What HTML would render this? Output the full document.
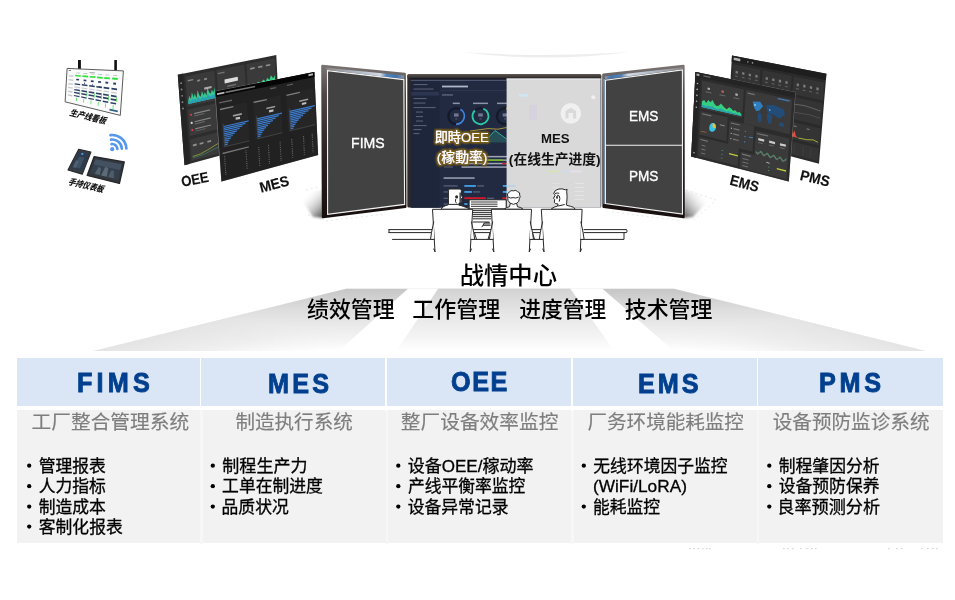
<!DOCTYPE html>
<html lang="zh-CN">
<head>
<meta charset="utf-8">
<title>战情中心</title>
<style>
html,body{margin:0;padding:0;background:#fff;}
body{width:955px;height:600px;position:relative;overflow:hidden;font-family:"Liberation Sans",sans-serif;}
.abs{position:absolute;}
#art{position:absolute;left:0;top:0;width:955px;height:600px;}
#art text{font-family:"Liberation Sans","Noto Sans CJK SC",sans-serif;}
.hd{position:absolute;top:358px;height:48px;background:#dae5f6;}
.bd{position:absolute;top:410px;height:133px;background:#f2f2f2;}
.ttl{position:absolute;color:#00408f;font-weight:bold;font-size:28.5px;line-height:30px;height:30px;white-space:nowrap;transform-origin:0 0;}
.lab{position:absolute;white-space:nowrap;line-height:1;transform-origin:0 0;}
</style>
</head>
<body>
<div class="hd" style="left:17.1px;width:925.5px"></div>
<div class="bd" style="left:17.1px;width:925.5px"></div>
<div class="abs" style="left:199.9px;top:357px;width:1.5px;height:53.5px;background:#fff"></div>
<div class="abs" style="left:200.3px;top:410.5px;width:2.4px;height:133px;background:#f7f7f7"></div>
<div class="abs" style="left:385.4px;top:357px;width:1.5px;height:53.5px;background:#fff"></div>
<div class="abs" style="left:385.8px;top:410.5px;width:2.4px;height:133px;background:#f7f7f7"></div>
<div class="abs" style="left:571.0px;top:357px;width:1.5px;height:53.5px;background:#fff"></div>
<div class="abs" style="left:571.3px;top:410.5px;width:2.4px;height:133px;background:#f7f7f7"></div>
<div class="abs" style="left:756.5px;top:357px;width:1.5px;height:53.5px;background:#fff"></div>
<div class="abs" style="left:756.8px;top:410.5px;width:2.4px;height:133px;background:#f7f7f7"></div>
<div class="ttl" style="left:77.46px;top:367.94px;font-size:28.0px;letter-spacing:4.66px;transform:scaleX(0.900);-webkit-text-stroke:0.9px #00408f">FIMS</div>
<div class="ttl" style="left:268.26px;top:369.14px;font-size:28.0px;letter-spacing:3.53px;transform:scaleX(0.900);-webkit-text-stroke:0.9px #00408f">MES</div>
<div class="ttl" style="left:451.32px;top:366.64px;font-size:28.0px;letter-spacing:1.72px;transform:scaleX(0.900);-webkit-text-stroke:0.9px #00408f">OEE</div>
<div class="ttl" style="left:638.26px;top:369.14px;font-size:28.0px;letter-spacing:3.37px;transform:scaleX(0.900);-webkit-text-stroke:0.9px #00408f">EMS</div>
<div class="ttl" style="left:819.06px;top:367.94px;font-size:28.0px;letter-spacing:4.15px;transform:scaleX(0.900);-webkit-text-stroke:0.9px #00408f">PMS</div>
<svg id="art" width="955" height="600" viewBox="0 0 955 600">
<defs>
<linearGradient id="fg" x1="0" y1="0" x2="0" y2="1">
<stop offset="0" stop-color="#c6c6c6"/><stop offset="0.35" stop-color="#dedede"/><stop offset="0.75" stop-color="#f1f1f1"/><stop offset="1" stop-color="#ffffff"/></linearGradient>
<linearGradient id="fg2" x1="0" y1="0" x2="0" y2="1">
<stop offset="0" stop-color="#d2d2d2"/><stop offset="0.4" stop-color="#e6e6e6"/><stop offset="0.8" stop-color="#f5f5f5"/><stop offset="1" stop-color="#ffffff"/></linearGradient>
<linearGradient id="fgl" gradientUnits="userSpaceOnUse" x1="220" y1="319.8" x2="233.2" y2="373.2"><stop offset="0" stop-color="#e4e4e4" stop-opacity="1"/><stop offset="0.5" stop-color="#ececec" stop-opacity="0.8"/><stop offset="1" stop-color="#f6f6f6" stop-opacity="0"/></linearGradient>
<linearGradient id="fgr" gradientUnits="userSpaceOnUse" x1="800" y1="319.9" x2="786.8" y2="373.3"><stop offset="0" stop-color="#e4e4e4" stop-opacity="1"/><stop offset="0.5" stop-color="#ececec" stop-opacity="0.8"/><stop offset="1" stop-color="#f6f6f6" stop-opacity="0"/></linearGradient>
<linearGradient id="bzl" gradientUnits="userSpaceOnUse" x1="0" y1="64" x2="0" y2="218"><stop offset="0" stop-color="#7b7573"/><stop offset="0.2" stop-color="#4d4745"/><stop offset="0.55" stop-color="#2c2524"/><stop offset="1" stop-color="#170f0e"/></linearGradient>
<linearGradient id="shl" gradientUnits="userSpaceOnUse" x1="323" y1="216" x2="303" y2="196"><stop offset="0" stop-color="#3c3c3c" stop-opacity="0.85"/><stop offset="0.35" stop-color="#777" stop-opacity="0.5"/><stop offset="1" stop-color="#fff" stop-opacity="0"/></linearGradient>
<linearGradient id="shr" gradientUnits="userSpaceOnUse" x1="684" y1="214" x2="706" y2="196"><stop offset="0" stop-color="#4a4a4a" stop-opacity="0.8"/><stop offset="0.4" stop-color="#888" stop-opacity="0.45"/><stop offset="1" stop-color="#fff" stop-opacity="0"/></linearGradient>
<filter id="bl1" x="-20%" y="-20%" width="140%" height="140%"><feGaussianBlur stdDeviation="1.2"/></filter>
<linearGradient id="bz" x1="0" y1="0" x2="1" y2="0"><stop offset="0" stop-color="#8d8a89"/><stop offset="0.45" stop-color="#b9c4d4"/><stop offset="0.7" stop-color="#dfe8f3"/><stop offset="0.78" stop-color="#4f86c6"/><stop offset="0.9" stop-color="#3d76ba"/><stop offset="1" stop-color="#8f9bab"/></linearGradient>
<linearGradient id="bz2" x1="0" y1="0" x2="1" y2="0"><stop offset="0" stop-color="#8f9bab"/><stop offset="0.08" stop-color="#3d76ba"/><stop offset="0.22" stop-color="#4f86c6"/><stop offset="0.3" stop-color="#dfe8f3"/><stop offset="0.6" stop-color="#b9c4d4"/><stop offset="1" stop-color="#8d8a89"/></linearGradient>
<linearGradient id="ctop" x1="0" y1="0" x2="0" y2="1"><stop offset="0" stop-color="#5b5451"/><stop offset="1" stop-color="#2a2625"/></linearGradient>
<filter id="glow" x="-20%" y="-40%" width="140%" height="180%"><feMorphology in="SourceAlpha" operator="dilate" radius="1.4" result="d"/><feGaussianBlur in="d" stdDeviation="1.1" result="b"/><feFlood flood-color="#86661a" flood-opacity="0.95"/><feComposite in2="b" operator="in" result="g"/><feMerge><feMergeNode in="g"/><feMergeNode in="g"/><feMergeNode in="SourceGraphic"/></feMerge></filter>
</defs>
<polygon points="346.0,288.8 674.0,288.8 926.0,351.0 93.0,351.0" fill="url(#fg)"/>
<polygon points="346.0,288.8 407.9,288.8 338.7,351.0 93.0,351.0" fill="url(#fgl)" style="mix-blend-mode:darken"/>
<polygon points="602.6,288.8 674.0,288.8 926.0,351.0 673.8,351.0" fill="url(#fgr)" style="mix-blend-mode:darken"/>
<polygon points="438.2,288.8 570.2,288.8 614.1,351.0 396.3,351.0" fill="url(#fg2)"/>
<polygon points="407.9,288.8 438.2,288.8 396.3,351.0 338.7,351.0" fill="#fff"/>
<polygon points="570.2,288.8 602.6,288.8 673.8,351.0 614.1,351.0" fill="#fff"/>
<polygon points="298.0,194.0 323.0,190.0 323.0,218.0 313.0,217.0" fill="url(#shl)" filter="url(#bl1)"/>
<polygon points="684.0,190.0 711.0,197.5 693.0,217.0 684.0,218.0" fill="url(#shr)" filter="url(#bl1)"/>
<polygon points="322.4,65.9 404.7,73.9 405.3,206.9 323.0,217.0" fill="url(#bzl)" stroke="url(#bzl)" stroke-width="2.4" stroke-linejoin="round"/>
<polygon points="327.5,70.6 403.8,79.6 404.6,204.4 327.6,214.4" fill="#424242" stroke="#f4f4f4" stroke-width="1.1"/>
<polygon points="324.6,67.6 404.2,75.6 403.9,78.7 327.3,69.9" fill="url(#bz)" opacity="0.9"/>
<polygon points="603.4,74.8 683.4,65.9 683.6,217.0 603.6,206.9" fill="url(#bzl)" stroke="url(#bzl)" stroke-width="2.4" stroke-linejoin="round"/>
<polygon points="605.4,80.2 682.4,69.9 682.5,214.0 605.4,203.6" fill="#424242" stroke="#f4f4f4" stroke-width="1.1"/>
<line x1="605.4" y1="145.2" x2="682.4" y2="145.2" stroke="#f4f4f4" stroke-width="1.1"/>
<line x1="604.1" y1="79" x2="604.1" y2="204" stroke="#86a7cc" stroke-width="1.3"/>
<polygon points="604.4,76.2 683.0,67.2 682.5,69.2 605.3,79.3" fill="url(#bz2)" opacity="0.9"/>
<rect x="407.3" y="74.2" width="194" height="133.4" rx="1.5" fill="#2f2a29"/>
<rect x="407.3" y="74.2" width="194" height="4.4" rx="1.5" fill="url(#ctop)"/>
<rect x="410.8" y="78.2" width="189.8" height="129.4" fill="#222a41"/>
<rect x="410.8" y="78.2" width="28.8" height="129.4" fill="#1e263b"/>
<rect x="410.8" y="78.2" width="96" height="1.6" fill="#1a1a22"/><rect x="410.8" y="79.8" width="96" height="1.0" fill="#59617a"/>
<rect x="413.5" y="84.0" width="14" height="1.1" fill="#c9d3ea" opacity="0.33"/>
<rect x="413.5" y="88.5" width="20" height="1.1" fill="#c9d3ea" opacity="0.33"/>
<rect x="413.5" y="93.5" width="12" height="1.1" fill="#c9d3ea" opacity="0.55"/>
<rect x="413.5" y="98.0" width="13" height="1.1" fill="#c9d3ea" opacity="0.33"/>
<rect x="413.5" y="102.5" width="12" height="1.1" fill="#c9d3ea" opacity="0.33"/>
<rect x="413.5" y="107.0" width="22" height="1.1" fill="#c9d3ea" opacity="0.33"/>
<rect x="416.0" y="111.5" width="7" height="1.1" fill="#c9d3ea" opacity="0.33"/>
<rect x="416.0" y="116.0" width="7" height="1.1" fill="#c9d3ea" opacity="0.33"/>
<rect x="416.0" y="120.5" width="7" height="1.1" fill="#c9d3ea" opacity="0.33"/>
<rect x="413.5" y="125.0" width="13" height="1.1" fill="#c9d3ea" opacity="0.33"/>
<rect x="413.5" y="129.0" width="8" height="1.1" fill="#c9d3ea" opacity="0.33"/>
<rect x="413.5" y="133.0" width="6" height="1.1" fill="#c9d3ea" opacity="0.33"/>
<rect x="411.5" y="91.8" width="27.5" height="3.8" fill="#2c3650"/>
<rect x="442" y="85.6" width="26" height="1.8" fill="#dfe6f7" opacity="0.75"/>
<rect x="442" y="94.4" width="11" height="1.1" fill="#c9d3ea" opacity="0.45"/>
<rect x="440.5" y="90" width="66" height="0.5" fill="#36405c"/>
<rect x="452.8" y="102.6" width="7" height="1.5" fill="#d5dcf0" opacity="0.6"/>
<rect x="473.0" y="102.6" width="15" height="1.5" fill="#d5dcf0" opacity="0.6"/>
<rect x="497.0" y="102.6" width="16" height="1.5" fill="#d5dcf0" opacity="0.6"/>
<circle cx="456.3" cy="116.2" r="8.0" fill="none" stroke="#141a2b" stroke-width="2.2"/><path d="M460.30 109.27 A8.00 8.00 0 0 1 456.13 124.20" fill="none" stroke="#3f83d9" stroke-width="1.9"/>
<circle cx="480.5" cy="116.2" r="8.0" fill="none" stroke="#141a2b" stroke-width="2.2"/><path d="M483.24 108.68 A8.00 8.00 0 1 1 474.86 110.52" fill="none" stroke="#2fc6a7" stroke-width="1.9"/>
<circle cx="505.0" cy="116.2" r="8.0" fill="none" stroke="#141a2b" stroke-width="2.2"/><path d="M506.39 108.32 A8.00 8.00 0 0 1 512.06 119.96" fill="none" stroke="#e7c33c" stroke-width="1.9"/>
<rect x="454.0" y="113.4" width="4.6" height="3.2" fill="#aeb7cf" opacity="0.55"/>
<rect x="455.3" y="118.4" width="2" height="1" fill="#aeb7cf" opacity="0.4"/>
<rect x="478.2" y="113.4" width="4.6" height="3.2" fill="#aeb7cf" opacity="0.55"/>
<rect x="479.5" y="118.4" width="2" height="1" fill="#aeb7cf" opacity="0.4"/>
<rect x="502.7" y="113.4" width="4.6" height="3.2" fill="#aeb7cf" opacity="0.55"/>
<rect x="504.0" y="118.4" width="2" height="1" fill="#aeb7cf" opacity="0.4"/>
<polygon points="486.0,140.0 495.0,130.5 506.6,139.0 506.6,142.5 486.0,142.5" fill="#2a6d6c" opacity="0.55"/>
<polyline points="486.0,140.0 495.0,130.5 506.6,139.0" fill="none" stroke="#35b9a2" stroke-width="0.9"/>
<polyline points="470.0,131.0 488.0,128.6 498.0,129.2 506.6,127.5" fill="none" stroke="#c9b13b" stroke-width="0.8"/>
<rect x="461.5" y="155.9" width="45.5" height="1.5" fill="#bfc6d6" opacity="0.8"/>
<rect x="461.5" y="159.4" width="45.5" height="1.5" fill="#bfc6d6" opacity="0.8"/>
<rect x="461.5" y="162.8" width="45.5" height="1.5" fill="#bfc6d6" opacity="0.8"/>
<rect x="461.5" y="166.3" width="45.5" height="1.5" fill="#bfc6d6" opacity="0.8"/>
<rect x="485.7" y="159.4" width="17.5" height="1.6" fill="#74b52c"/>
<rect x="502.3" y="162.8" width="4.3" height="1.6" fill="#c8202f"/>
<rect x="444" y="166.5" width="9" height="1" fill="#aeb7cf" opacity="0.4"/>
<rect x="443.6" y="177.2" width="31" height="1.7" fill="#d5dcf0" opacity="0.6"/>
<rect x="443.6" y="185.4" width="14" height="1.1" fill="#aeb7cf" opacity="0.45"/>
<rect x="464.3" y="185.0" width="11.6" height="1.9" fill="#3f9be0"/>
<rect x="477.1" y="185.4" width="7" height="1.1" fill="#aeb7cf" opacity="0.45"/>
<rect x="443.6" y="191.4" width="14" height="1.1" fill="#aeb7cf" opacity="0.45"/>
<rect x="464.3" y="191.0" width="7.6" height="1.9" fill="#3f9be0"/>
<rect x="473.1" y="191.4" width="7" height="1.1" fill="#aeb7cf" opacity="0.45"/>
<rect x="443.6" y="197.7" width="14" height="1.1" fill="#aeb7cf" opacity="0.45"/>
<rect x="464.3" y="197.2" width="21.5" height="1.9" fill="#d0182b"/>
<rect x="487.0" y="197.7" width="7" height="1.1" fill="#aeb7cf" opacity="0.45"/>
<rect x="443.6" y="203.5" width="14" height="1.1" fill="#aeb7cf" opacity="0.45"/>
<rect x="464.3" y="203.1" width="3.2" height="1.9" fill="#3f9be0"/>
<rect x="468.7" y="203.5" width="7" height="1.1" fill="#aeb7cf" opacity="0.45"/>
<rect x="502.8" y="185.0" width="4" height="1.9" fill="#3f9be0"/>
<rect x="502.8" y="191.0" width="4" height="1.9" fill="#3f9be0"/>
<rect x="502.3" y="197.3" width="4.4" height="1.9" fill="#d0182b"/>
<rect x="506.6" y="78.6" width="94" height="129.2" fill="#d9d9d9"/>
<rect x="519" y="94" width="8.5" height="2.6" fill="#cfe6f3"/>
<circle cx="570.8" cy="113.4" r="10.3" fill="#f2f2f2" opacity="0.9"/>
<path d="M565.5 118.5 v-7.5 l5.3 -3.2 5.3 3.2 v7.5 h-3 v-5.5 h-4.6 v5.5z" fill="#d9d9d9"/>
<circle cx="593.3" cy="97.2" r="2" fill="#f0f0f0"/>
<rect x="529" y="105" width="8" height="15" rx="1" fill="#d4d0de" opacity="0.8"/>
<rect x="548" y="170.5" width="12" height="1.8" fill="#d8e3b5"/><rect x="561" y="170.5" width="8" height="1.8" fill="#cfdcec"/><rect x="570" y="170.5" width="12" height="1.8" fill="#e7e0ea"/>
<rect x="506.6" y="185.1" width="9" height="1.7" fill="#b7d2ea"/>
<rect x="506.6" y="191.1" width="9" height="1.7" fill="#b7d2ea"/>
<rect x="506.6" y="197.4" width="6" height="1.7" fill="#e3b5bb"/>
<rect x="575" y="183.0" width="9" height="0.9" fill="#e6e6e6"/>
<rect x="552" y="183.0" width="7" height="0.9" fill="#e2e2e2"/>
<rect x="575" y="187.0" width="9" height="0.9" fill="#e6e6e6"/>
<rect x="552" y="187.0" width="7" height="0.9" fill="#e2e2e2"/>
<rect x="575" y="191.0" width="9" height="0.9" fill="#e6e6e6"/>
<rect x="552" y="191.0" width="7" height="0.9" fill="#e2e2e2"/>
<rect x="575" y="195.0" width="9" height="0.9" fill="#e6e6e6"/>
<rect x="552" y="195.0" width="7" height="0.9" fill="#e2e2e2"/>
<rect x="575" y="199.0" width="9" height="0.9" fill="#e6e6e6"/>
<rect x="552" y="199.0" width="7" height="0.9" fill="#e2e2e2"/>
<rect x="506.6" y="78.4" width="94" height="1.2" fill="#efefef" opacity="0.8"/>
<polygon points="177.8,74.7 276.3,55.0 280.4,139.0 184.5,165.2" fill="#2d2d2d"/>
<polygon points="177.8,74.7 183.2,73.6 189.8,163.8 184.5,165.2" fill="#242424"/>
<circle cx="181.1" cy="83.2" r="0.9" fill="#8a8a8a"/>
<circle cx="181.6" cy="89.5" r="0.9" fill="#8a8a8a"/>
<circle cx="182.1" cy="95.8" r="0.9" fill="#8a8a8a"/>
<circle cx="182.5" cy="102.2" r="0.9" fill="#8a8a8a"/>
<circle cx="183.0" cy="108.5" r="0.9" fill="#8a8a8a"/>
<polygon points="185.4,76.4 214.4,70.5 216.4,100.0 187.6,106.5" fill="#3a3a3a"/>
<polygon points="216.4,70.1 244.5,64.4 246.1,93.3 218.3,99.6" fill="#3a3a3a"/>
<polygon points="246.4,64.0 275.0,58.2 276.4,86.4 248.1,92.8" fill="#3a3a3a"/>
<polygon points="188.2,101.4 189.2,95.7 190.9,98.9 191.9,92.3 193.7,97.4 194.8,93.5 196.6,98.6 197.5,90.2 199.3,95.3 200.8,96.7 201.9,91.1 203.6,95.2 204.8,92.3 206.5,95.5 207.4,87.2 209.1,92.2 210.7,93.7 211.8,89.8 213.4,92.2 214.6,87.4 215.2,98.0 188.4,104.1" fill="#33c98f"/>
<polygon points="188.3,102.8 189.6,100.1 191.1,101.4 192.3,98.3 193.9,100.4 195.2,98.4 196.8,100.5 197.9,96.6 199.5,98.7 201.0,99.2 202.2,96.5 203.8,98.2 205.1,96.6 206.6,97.9 207.8,94.0 209.4,96.1 210.9,96.6 212.2,94.7 213.7,95.6 214.9,93.3 215.2,98.0 188.4,104.1" fill="#2a9fb5"/>
<polygon points="187.7,80.0 193.1,78.9 193.2,80.2 187.8,81.4" fill="#bdbdbd" opacity="0.6"/>
<polygon points="197.1,79.9 200.1,79.3 200.2,81.1 197.3,81.7" fill="#bdbdbd" opacity="0.6"/>
<polygon points="204.0,78.5 207.0,77.8 207.1,79.6 204.1,80.2" fill="#bdbdbd" opacity="0.6"/>
<polygon points="204.1,87.4 211.5,85.9 211.6,88.1 204.3,89.7" fill="#d8d8d8" opacity="0.7"/>
<polygon points="217.6,73.0 224.5,71.6 224.6,72.9 217.7,74.3" fill="#aaaaaa" opacity="0.5"/>
<polygon points="224.5,79.5 237.7,76.7 238.0,80.6 224.7,83.5" fill="#f0f0f0" opacity="0.9"/>
<polygon points="227.3,85.6 236.2,83.7 236.2,85.0 227.4,86.9" fill="#aaaaaa" opacity="0.5"/>
<polygon points="248.8,88.7 250.6,85.7 252.5,87.0 254.3,84.1 256.3,85.3 258.0,81.5 260.0,83.7 261.8,81.5 263.6,79.4 265.6,81.6 267.3,77.8 269.3,79.9 271.0,75.2 273.1,78.2 274.8,75.3 275.3,84.5 248.9,90.5" fill="#35cf86"/>
<polygon points="250.1,68.0 254.6,67.1 254.7,68.8 250.2,69.8" fill="#c8c8c8" opacity="0.6"/>
<polygon points="258.0,66.4 262.4,65.5 262.5,67.2 258.1,68.1" fill="#c8c8c8" opacity="0.6"/>
<polygon points="265.9,64.8 270.3,63.9 270.4,65.6 265.9,66.5" fill="#c8c8c8" opacity="0.6"/>
<polygon points="187.8,109.7 216.6,103.1 218.3,129.1 189.7,136.2" fill="#3a3a3a"/>
<circle cx="191.2" cy="114.8" r="1.1" fill="#e23b4a"/>
<polygon points="194.0,113.1 210.1,109.3 210.1,110.4 194.1,114.2" fill="#c4c4c4" opacity="0.55"/>
<polygon points="194.2,115.5 204.4,113.1 204.4,114.0 194.2,116.4" fill="#9a9a9a" opacity="0.5"/>
<circle cx="191.7" cy="122.9" r="1.1" fill="#d9d9d9"/>
<polygon points="194.6,121.2 210.6,117.3 210.7,118.4 194.7,122.2" fill="#c4c4c4" opacity="0.55"/>
<polygon points="194.7,123.6 204.9,121.1 205.0,122.0 194.8,124.5" fill="#9a9a9a" opacity="0.5"/>
<circle cx="192.3" cy="130.1" r="1.1" fill="#e23b4a"/>
<polygon points="195.1,128.3 211.1,124.4 211.1,125.5 195.2,129.4" fill="#c4c4c4" opacity="0.55"/>
<polygon points="195.3,130.7 205.4,128.2 205.5,129.1 195.3,131.6" fill="#9a9a9a" opacity="0.5"/>
<polygon points="190.0,139.4 218.5,132.2 219.8,153.3 191.5,161.0" fill="#3a3a3a"/>
<polygon points="192.8,144.6 196.7,143.6 196.8,145.4 192.9,146.4" fill="#c8c8c8" opacity="0.6"/>
<polygon points="199.6,142.9 203.4,141.9 203.5,143.7 199.7,144.7" fill="#c8c8c8" opacity="0.6"/>
<polygon points="207.3,140.9 211.1,139.9 211.2,141.7 207.4,142.7" fill="#c8c8c8" opacity="0.6"/>
<polyline points="192.7,156.5 200.3,154.0 207.9,149.8 218.2,143.4" fill="none" stroke="#a9b53a" stroke-width="0.70"/>
<polyline points="192.8,157.9 203.3,154.6 218.4,147.0" fill="none" stroke="#3f8f6a" stroke-width="0.60"/>
<polygon points="218.5,102.6 246.3,96.3 247.7,121.7 220.2,128.6" fill="#343434"/>
<polygon points="220.4,131.7 247.9,124.7 249.1,145.4 221.8,152.8" fill="#343434"/>
<polygon points="215.4,91.6 314.3,72.0 318.1,155.0 221.4,181.4" fill="#222" stroke="#e8e8e8" stroke-width="0.5"/>
<polygon points="215.4,91.6 314.3,72.0 318.1,155.0 221.4,181.4" fill="#212121"/>
<polygon points="215.4,91.6 314.3,72.0 314.5,77.0 215.8,97.0" fill="#050505"/>
<polygon points="217.0,93.3 224.4,91.8 224.5,93.4 217.1,94.9" fill="#e8e8e8" opacity="0.8"/>
<polygon points="225.4,91.6 255.1,85.7 255.2,87.2 225.5,93.2" fill="#bcbcbc" opacity="0.6"/>
<polygon points="308.4,74.2 312.9,73.3 313.0,75.3 308.5,76.2" fill="#e8e8e8" opacity="0.8"/>
<polygon points="270.2,88.1 276.1,86.9 276.2,88.2 270.3,89.4" fill="#9a9a9a" opacity="0.5"/>
<polygon points="287.0,84.7 292.9,83.5 293.0,84.8 287.0,86.0" fill="#9a9a9a" opacity="0.5"/>
<polygon points="219.1,102.2 231.9,99.6 232.0,100.9 219.2,103.6" fill="#9a9a9a" opacity="0.55"/>
<polygon points="219.5,108.0 247.1,102.2 249.5,141.6 222.2,148.4" fill="#262626"/>
<polygon points="220.0,108.8 233.3,106.0 233.4,107.3 220.1,110.2" fill="#bdbdbd" opacity="0.6"/>
<polygon points="232.9,115.1 241.8,113.1 241.9,114.7 233.0,116.7" fill="#d0d0d0" opacity="0.7"/>
<polygon points="235.6,117.6 240.0,116.7 240.1,118.9 235.7,119.8" fill="#e8e8e8" opacity="0.8"/>
<polygon points="224.9,144.2 227.7,143.5 227.8,144.7 224.9,145.4" fill="#3b7ccf"/>
<polygon points="224.7,142.4 228.4,141.5 228.5,142.7 224.8,143.6" fill="#3b7ccf"/>
<polygon points="224.6,140.5 229.5,139.4 229.6,140.6 224.7,141.7" fill="#3b7ccf"/>
<polygon points="224.5,138.7 231.0,137.2 231.0,138.4 224.6,139.9" fill="#3b7ccf"/>
<polygon points="224.4,136.9 232.7,134.9 232.8,136.1 224.5,138.1" fill="#3b7ccf"/>
<polygon points="224.3,135.0 234.7,132.6 234.8,133.8 224.3,136.2" fill="#3b7ccf"/>
<polygon points="224.1,133.2 237.0,130.2 237.1,131.4 224.2,134.4" fill="#3b7ccf"/>
<polygon points="224.0,131.4 239.6,127.8 239.6,128.9 224.1,132.6" fill="#3b7ccf"/>
<polygon points="223.9,129.5 242.4,125.3 242.4,126.5 224.0,130.7" fill="#3b7ccf"/>
<polygon points="223.8,127.7 245.4,122.8 245.5,123.9 223.9,128.9" fill="#3b7ccf"/>
<polygon points="223.7,125.9 248.7,120.2 248.7,121.4 223.7,127.1" fill="#3b7ccf"/>
<polyline points="223.1,123.6 224.6,146.8 249.4,140.8" fill="none" stroke="#6a6a6a" stroke-width="0.40"/>
<polygon points="253.0,100.9 280.6,95.1 282.6,133.5 255.3,140.2" fill="#262626"/>
<polygon points="253.5,101.7 266.8,98.9 266.9,100.2 253.6,103.0" fill="#bdbdbd" opacity="0.6"/>
<polygon points="266.3,107.7 275.2,105.8 275.2,107.3 266.4,109.3" fill="#d0d0d0" opacity="0.7"/>
<polygon points="268.9,110.2 273.4,109.2 273.5,111.4 269.1,112.4" fill="#e8e8e8" opacity="0.8"/>
<polygon points="258.0,136.1 260.9,135.5 260.9,136.6 258.1,137.3" fill="#3b7ccf"/>
<polygon points="257.9,134.4 261.6,133.5 261.7,134.6 258.0,135.5" fill="#3b7ccf"/>
<polygon points="257.8,132.6 262.7,131.4 262.8,132.6 257.9,133.7" fill="#3b7ccf"/>
<polygon points="257.7,130.8 264.2,129.2 264.3,130.4 257.8,132.0" fill="#3b7ccf"/>
<polygon points="257.6,129.0 265.9,127.0 266.0,128.2 257.7,130.2" fill="#3b7ccf"/>
<polygon points="257.5,127.2 268.0,124.8 268.1,125.9 257.6,128.4" fill="#3b7ccf"/>
<polygon points="257.4,125.4 270.3,122.4 270.4,123.6 257.5,126.6" fill="#3b7ccf"/>
<polygon points="257.3,123.6 272.9,120.0 272.9,121.2 257.4,124.8" fill="#3b7ccf"/>
<polygon points="257.2,121.9 275.7,117.6 275.7,118.8 257.3,123.0" fill="#3b7ccf"/>
<polygon points="257.1,120.1 278.7,115.1 278.8,116.3 257.2,121.2" fill="#3b7ccf"/>
<polygon points="257.0,118.3 282.0,112.6 282.0,113.8 257.1,119.5" fill="#3b7ccf"/>
<polyline points="256.5,116.1 257.8,138.7 282.6,132.6" fill="none" stroke="#6a6a6a" stroke-width="0.40"/>
<polygon points="286.0,93.9 313.5,88.1 315.3,125.5 288.0,132.2" fill="#262626"/>
<polygon points="286.5,94.7 299.8,91.8 299.9,93.1 286.6,96.0" fill="#bdbdbd" opacity="0.6"/>
<polygon points="299.2,100.5 308.1,98.5 308.1,100.0 299.3,102.0" fill="#d0d0d0" opacity="0.7"/>
<polygon points="301.8,102.9 306.2,101.9 306.3,104.0 301.9,105.0" fill="#e8e8e8" opacity="0.8"/>
<polygon points="290.7,128.2 293.5,127.5 293.6,128.7 290.8,129.3" fill="#3b7ccf"/>
<polygon points="290.6,126.5 294.3,125.6 294.4,126.7 290.7,127.6" fill="#3b7ccf"/>
<polygon points="290.5,124.7 295.5,123.5 295.5,124.7 290.6,125.9" fill="#3b7ccf"/>
<polygon points="290.5,123.0 296.9,121.4 297.0,122.6 290.5,124.1" fill="#3b7ccf"/>
<polygon points="290.4,121.2 298.7,119.3 298.8,120.4 290.4,122.4" fill="#3b7ccf"/>
<polygon points="290.3,119.5 300.8,117.0 300.8,118.2 290.3,120.7" fill="#3b7ccf"/>
<polygon points="290.2,117.8 303.1,114.8 303.1,115.9 290.2,118.9" fill="#3b7ccf"/>
<polygon points="290.1,116.0 305.6,112.4 305.7,113.6 290.2,117.2" fill="#3b7ccf"/>
<polygon points="290.0,114.3 308.5,110.0 308.5,111.2 290.1,115.4" fill="#3b7ccf"/>
<polygon points="289.9,112.6 311.5,107.6 311.6,108.7 290.0,113.7" fill="#3b7ccf"/>
<polygon points="289.8,110.8 314.8,105.1 314.9,106.3 289.9,112.0" fill="#3b7ccf"/>
<polyline points="289.3,108.7 290.5,130.7 315.2,124.6" fill="none" stroke="#6a6a6a" stroke-width="0.40"/>
<polygon points="222.5,152.8 248.8,146.3 248.8,147.6 222.6,154.2" fill="#bdbdbd" opacity="0.55"/>
<polyline points="224.6,155.9 225.9,175.6" fill="none" stroke="#a4a4a4" stroke-width="1.10" stroke-dasharray="0.6 1.2" opacity="0.75"/>
<polyline points="246.0,150.5 247.2,169.9" fill="none" stroke="#a4a4a4" stroke-width="1.10" stroke-dasharray="0.6 1.2" opacity="0.75"/>
<polyline points="258.7,147.3 259.8,166.5" fill="none" stroke="#a4a4a4" stroke-width="1.10" stroke-dasharray="0.6 1.2" opacity="0.75"/>
<polyline points="268.4,144.9 269.5,163.9" fill="none" stroke="#a4a4a4" stroke-width="1.10" stroke-dasharray="0.6 1.2" opacity="0.75"/>
<polyline points="280.1,141.9 281.1,160.8" fill="none" stroke="#a4a4a4" stroke-width="1.10" stroke-dasharray="0.6 1.2" opacity="0.75"/>
<polyline points="291.8,139.0 292.7,157.6" fill="none" stroke="#a4a4a4" stroke-width="1.10" stroke-dasharray="0.6 1.2" opacity="0.75"/>
<polyline points="303.5,136.0 304.4,154.5" fill="none" stroke="#a4a4a4" stroke-width="1.10" stroke-dasharray="0.6 1.2" opacity="0.75"/>
<polyline points="312.2,133.8 313.1,152.2" fill="none" stroke="#a4a4a4" stroke-width="1.10" stroke-dasharray="0.6 1.2" opacity="0.75"/>
<polygon points="732.0,55.5 826.4,73.8 819.0,163.8 727.0,139.5" fill="#2a2a2a"/>
<polygon points="732.0,55.5 826.4,73.8 825.9,80.1 731.6,61.4" fill="#1e1e1e"/>
<polygon points="733.8,57.5 740.4,58.8 740.2,61.4 733.6,60.1" fill="#d8d8d8" opacity="0.8"/>
<circle cx="747.8" cy="62.0" r="0.8" fill="#9a9a9a"/>
<circle cx="752.5" cy="62.9" r="0.8" fill="#9a9a9a"/>
<polygon points="733.4,64.3 760.7,69.8 759.5,86.9 732.4,81.1" fill="#343434"/>
<polygon points="762.6,70.1 791.8,76.0 790.5,93.6 761.4,87.3" fill="#343434"/>
<polygon points="793.6,76.4 824.2,82.5 822.8,100.5 792.3,94.0" fill="#343434"/>
<polygon points="735.7,70.7 737.9,71.2 737.8,73.7 735.5,73.2" fill="#b8b8b8" opacity="0.55"/>
<polygon points="735.1,75.3 737.9,75.9 737.8,77.0 735.0,76.4" fill="#8a8a8a" opacity="0.5"/>
<polygon points="742.2,72.1 744.5,72.5 744.3,75.1 742.1,74.6" fill="#b8b8b8" opacity="0.55"/>
<polygon points="741.7,76.7 744.5,77.2 744.4,78.4 741.6,77.8" fill="#8a8a8a" opacity="0.5"/>
<polygon points="748.8,73.4 751.1,73.9 750.9,76.4 748.7,76.0" fill="#b8b8b8" opacity="0.55"/>
<polygon points="748.2,78.0 751.1,78.6 751.0,79.7 748.2,79.1" fill="#8a8a8a" opacity="0.5"/>
<polygon points="755.4,74.8 757.7,75.2 757.5,77.8 755.2,77.3" fill="#b8b8b8" opacity="0.55"/>
<polygon points="754.8,79.4 757.6,80.0 757.6,81.1 754.7,80.5" fill="#8a8a8a" opacity="0.5"/>
<polygon points="765.7,76.9 768.0,77.4 767.8,79.9 765.6,79.5" fill="#b8b8b8" opacity="0.55"/>
<polygon points="765.1,81.6 767.9,82.2 767.9,83.3 765.1,82.7" fill="#8a8a8a" opacity="0.5"/>
<polygon points="772.3,78.2 774.6,78.7 774.4,81.3 772.1,80.8" fill="#b8b8b8" opacity="0.55"/>
<polygon points="771.7,82.9 774.5,83.5 774.4,84.7 771.6,84.1" fill="#8a8a8a" opacity="0.5"/>
<polygon points="778.9,79.6 781.2,80.1 781.0,82.7 778.7,82.2" fill="#b8b8b8" opacity="0.55"/>
<polygon points="778.3,84.3 781.1,84.9 781.0,86.0 778.2,85.5" fill="#8a8a8a" opacity="0.5"/>
<polygon points="785.5,80.9 787.7,81.4 787.5,84.0 785.3,83.6" fill="#b8b8b8" opacity="0.55"/>
<polygon points="784.8,85.7 787.7,86.3 787.6,87.4 784.8,86.8" fill="#8a8a8a" opacity="0.5"/>
<polygon points="796.8,83.3 799.0,83.7 798.8,86.4 796.6,85.9" fill="#b8b8b8" opacity="0.55"/>
<polygon points="796.1,88.1 798.9,88.6 798.8,89.8 796.0,89.2" fill="#8a8a8a" opacity="0.5"/>
<polygon points="803.3,84.6 805.6,85.1 805.4,87.7 803.1,87.3" fill="#b8b8b8" opacity="0.55"/>
<polygon points="802.7,89.4 805.5,90.0 805.4,91.2 802.6,90.6" fill="#8a8a8a" opacity="0.5"/>
<polygon points="809.9,86.0 812.2,86.4 812.0,89.1 809.7,88.6" fill="#b8b8b8" opacity="0.55"/>
<polygon points="809.2,90.8 812.1,91.4 812.0,92.6 809.2,92.0" fill="#8a8a8a" opacity="0.5"/>
<polygon points="816.5,87.3 818.8,87.8 818.5,90.5 816.3,90.0" fill="#b8b8b8" opacity="0.55"/>
<polygon points="815.8,92.2 818.6,92.8 818.5,93.9 815.7,93.3" fill="#8a8a8a" opacity="0.5"/>
<polygon points="792.1,96.6 822.6,103.2 820.7,125.7 790.5,118.6" fill="#343434"/>
<polyline points="793.5,104.1 804.8,105.7 820.5,111.0" fill="none" stroke="#b8b8b8" stroke-width="0.60" opacity="0.6"/>
<polyline points="792.9,112.0 808.8,114.7 819.9,118.2" fill="none" stroke="#9a9a9a" stroke-width="0.50" opacity="0.5"/>
<polygon points="790.3,121.2 820.5,128.4 819.1,145.5 789.0,137.9" fill="#343434"/>
<polygon points="790.6,136.1 792.5,128.9 793.1,133.6 794.8,130.4 795.8,136.0 798.5,138.0" fill="#e0503a"/>
<polyline points="798.5,138.0 806.8,139.7 813.4,139.9 817.9,142.4" fill="none" stroke="#c2cc3a" stroke-width="0.80"/>
<polygon points="793.8,125.2 796.6,125.9 796.5,127.2 793.7,126.5" fill="#b8b8b8" opacity="0.5"/>
<polygon points="806.8,128.3 809.6,129.0 809.4,130.3 806.7,129.6" fill="#b8b8b8" opacity="0.5"/>
<polygon points="788.8,140.6 818.9,148.2 817.8,161.2 787.9,153.3" fill="#343434"/>
<polyline points="794.2,144.6 793.6,152.6" fill="none" stroke="#777" stroke-width="0.60" stroke-dasharray="0.7 1.2" opacity="0.7"/>
<polyline points="803.4,147.0 802.8,155.0" fill="none" stroke="#777" stroke-width="0.60" stroke-dasharray="0.7 1.2" opacity="0.7"/>
<polyline points="810.8,148.9 810.2,156.9" fill="none" stroke="#777" stroke-width="0.60" stroke-dasharray="0.7 1.2" opacity="0.7"/>
<polygon points="695.5,72.0 795.2,92.5 788.8,181.4 691.2,156.4" fill="#2c2c2c" stroke="#cfcfcf" stroke-width="0.4"/>
<polygon points="695.5,72.0 795.2,92.5 788.8,181.4 691.2,156.4" fill="#2c2c2c"/>
<polygon points="695.5,72.0 700.5,73.0 696.1,157.7 691.2,156.4" fill="#232323"/>
<polygon points="695.5,72.0 795.2,92.5 794.8,97.4 695.3,76.6" fill="#242424"/>
<polygon points="696.6,73.5 699.4,74.1 699.3,76.2 696.5,75.6" fill="#d0d0d0" opacity="0.8"/>
<polygon points="703.4,75.3 710.4,76.8 710.3,78.1 703.3,76.6" fill="#a8a8a8" opacity="0.55"/>
<circle cx="697.5" cy="83.5" r="0.8" fill="#b5b5b5"/>
<circle cx="697.2" cy="89.4" r="0.8" fill="#b5b5b5"/>
<circle cx="696.9" cy="95.4" r="0.8" fill="#b5b5b5"/>
<circle cx="696.6" cy="101.3" r="0.8" fill="#b5b5b5"/>
<circle cx="696.3" cy="107.2" r="0.8" fill="#b5b5b5"/>
<circle cx="694.0" cy="152.8" r="0.8" fill="#b5b5b5"/>
<polygon points="702.1,80.6 743.9,89.4 742.1,118.0 700.6,108.6" fill="#3a3a3a"/>
<polygon points="707.6,87.4 710.0,87.9 709.8,90.0 707.5,89.5" fill="#cfcfcf" opacity="0.8"/>
<polygon points="705.6,91.2 711.5,92.5 711.5,93.5 705.5,92.3" fill="#9a9a9a" opacity="0.5"/>
<polygon points="721.5,90.3 723.9,90.8 723.8,93.0 721.4,92.5" fill="#e06a6a" opacity="0.8"/>
<polygon points="719.5,94.2 725.4,95.5 725.4,96.5 719.4,95.3" fill="#9a9a9a" opacity="0.5"/>
<polygon points="735.4,93.3 737.8,93.8 737.7,96.0 735.3,95.5" fill="#cfcfcf" opacity="0.8"/>
<polygon points="733.4,97.2 739.3,98.5 739.3,99.5 733.3,98.3" fill="#9a9a9a" opacity="0.5"/>
<polygon points="702.0,101.2 704.2,100.0 706.1,103.0 708.4,100.0 710.4,102.2 712.6,100.1 714.5,104.0 716.5,106.1 718.7,105.7 720.9,103.6 722.9,105.8 724.9,108.0 726.9,109.3 729.1,107.2 731.2,108.5 733.1,110.7 735.3,110.3 737.3,112.5 739.4,112.1 741.4,114.3 741.3,116.0 701.7,107.1" fill="#35d07f"/>
<polygon points="701.8,105.0 703.9,104.9 706.0,106.3 708.1,105.6 710.2,106.6 712.3,106.2 714.3,107.8 716.4,108.9 718.5,109.1 720.6,108.6 722.6,109.7 724.7,110.8 726.8,111.5 728.9,111.1 731.0,111.9 733.0,112.9 735.1,113.1 737.2,114.2 739.3,114.4 741.3,115.4 741.3,116.0 701.7,107.1" fill="#2aa3b0"/>
<polygon points="745.9,89.8 792.2,99.5 789.7,134.2 743.8,123.6" fill="#3a3a3a"/>
<polygon points="747.7,92.4 754.7,93.9 754.6,95.2 747.7,93.7" fill="#a8a8a8" opacity="0.55"/>
<polygon points="777.6,97.8 789.6,100.3 789.5,101.7 777.6,99.2" fill="#4a8fd6" opacity="0.7"/>
<polygon points="752.7,101.4 760.3,101.7 763.0,106.3 759.2,110.8 756.1,111.0 753.9,106.9" fill="#2f7dbd"/>
<polygon points="758.1,112.3 761.5,113.9 761.5,121.0 758.9,123.1 757.7,117.5" fill="#234d78"/>
<polygon points="766.1,105.2 774.1,105.1 783.9,109.5 785.0,114.7 779.2,118.8 773.5,114.8 768.5,113.7 766.8,109.8" fill="#234d78"/>
<polygon points="767.0,113.4 772.4,115.5 771.4,122.4 768.8,124.5 767.2,118.8" fill="#234d78"/>
<polygon points="779.0,122.3 783.9,123.4 783.7,126.9 779.2,125.9" fill="#234d78"/>
<circle cx="755.0" cy="105.0" r="1.0" fill="#7fd0ff"/>
<circle cx="769.8" cy="110.0" r="0.8" fill="#7fd0ff"/>
<polygon points="700.5,111.1 727.7,117.3 726.3,141.0 699.3,134.4" fill="#3a3a3a"/>
<polygon points="701.9,113.2 711.3,115.3 711.2,116.4 701.8,114.3" fill="#a8a8a8" opacity="0.55"/>
<ellipse cx="712.6" cy="127.3" rx="3.3" ry="4.4" fill="#35c3e8" transform="rotate(10 712.6 127.3)"/>
<path d="M712.6 127.3 l0 -4.4 a3.3 4.4 0 0 1 3 5.6z" fill="#e9c23a"/>
<polygon points="719.8,124.2 724.7,125.3 724.6,126.4 719.7,125.2" fill="#bcbcbc" opacity="0.55"/>
<polyline points="700.9,131.4 706.4,132.3" fill="none" stroke="#d46a3a" stroke-width="0.60"/>
<polygon points="729.5,120.4 754.2,126.0 752.5,151.7 728.0,145.7" fill="#3a3a3a"/>
<polygon points="730.9,122.4 739.7,124.5 739.7,125.6 730.8,123.5" fill="#a8a8a8" opacity="0.55"/>
<circle cx="731.5" cy="128.2" r="0.6" fill="#bdbdbd"/>
<polygon points="733.5,128.1 739.4,129.5 739.4,130.7 733.5,129.3" fill="#a8a8a8" opacity="0.55"/>
<circle cx="745.3" cy="131.5" r="0.6" fill="#4a8fd6"/>
<circle cx="731.2" cy="133.4" r="0.6" fill="#bdbdbd"/>
<polygon points="733.2,133.3 739.1,134.7 739.0,135.9 733.1,134.5" fill="#a8a8a8" opacity="0.55"/>
<circle cx="745.0" cy="136.7" r="0.6" fill="#4a8fd6"/>
<circle cx="730.9" cy="138.6" r="0.6" fill="#bdbdbd"/>
<polygon points="732.9,138.4 738.8,139.9 738.7,141.1 732.8,139.7" fill="#a8a8a8" opacity="0.55"/>
<circle cx="744.7" cy="141.9" r="0.6" fill="#4a8fd6"/>
<polyline points="748.9,137.2 752.9,137.7" fill="none" stroke="#4a8fd6" stroke-width="0.80"/>
<polygon points="755.9,130.8 789.4,138.6 787.5,164.3 754.2,156.1" fill="#3a3a3a"/>
<polygon points="757.2,132.9 768.1,135.4 768.0,136.6 757.1,134.1" fill="#a8a8a8" opacity="0.55"/>
<polygon points="758.4,138.1 764.3,139.5 764.1,141.7 758.2,140.3" fill="#e6e6e6" opacity="0.85"/>
<polygon points="758.1,142.0 763.0,143.2 763.0,144.0 758.1,142.9" fill="#9a9a9a" opacity="0.5"/>
<polygon points="769.2,140.6 775.1,142.0 775.0,144.2 769.1,142.8" fill="#e6e6e6" opacity="0.85"/>
<polygon points="768.9,144.6 773.9,145.7 773.8,146.6 768.9,145.5" fill="#9a9a9a" opacity="0.5"/>
<polygon points="780.0,143.2 785.9,144.6 785.8,146.8 779.9,145.4" fill="#e6e6e6" opacity="0.85"/>
<polygon points="779.8,147.1 784.7,148.3 784.6,149.2 779.7,148.0" fill="#9a9a9a" opacity="0.5"/>
<polyline points="756.0,151.3 757.2,153.1 758.5,153.0 759.9,151.5 761.2,151.3 762.4,153.1 763.6,155.0 764.9,154.9 766.3,153.4 767.6,153.1 768.7,154.9 769.9,156.9 771.2,156.8 772.6,155.4 773.9,155.0 775.1,156.8 776.3,158.8 777.6,158.8 779.0,157.3 780.3,156.9 781.5,158.6 782.6,160.7 783.9,160.7 785.3,159.3 786.6,158.8" fill="none" stroke="#54c07f" stroke-width="0.60"/>
<polyline points="756.0,152.3 757.1,154.2 758.4,154.0 759.8,152.5 761.1,152.3 762.3,154.1 763.5,156.1 764.8,155.9 766.2,154.5 767.5,154.2 768.7,156.0 769.8,157.9 771.1,157.9 772.5,156.4 773.9,156.1 775.0,157.8 776.2,159.8 777.5,159.8 778.9,158.4 780.2,158.0 781.4,159.7 782.5,161.7 783.8,161.8 785.2,160.3 786.6,159.9" fill="none" stroke="#d9d9d9" stroke-width="0.40" opacity="0.7"/>
<polygon points="699.1,137.0 738.9,146.6 737.7,166.1 698.1,156.0" fill="#3a3a3a"/>
<polygon points="700.5,139.0 707.9,140.8 707.8,141.9 700.5,140.1" fill="#a8a8a8" opacity="0.55"/>
<polygon points="701.7,144.8 705.6,145.8 705.6,146.8 701.7,145.8" fill="#a8a8a8" opacity="0.5"/>
<circle cx="722.2" cy="150.4" r="0.5" fill="#54c07f"/>
<polygon points="701.5,148.6 705.4,149.6 705.4,150.6 701.5,149.7" fill="#a8a8a8" opacity="0.5"/>
<circle cx="722.0" cy="154.3" r="0.5" fill="#54c07f"/>
<polygon points="701.3,152.5 705.2,153.4 705.2,154.5 701.2,153.5" fill="#a8a8a8" opacity="0.5"/>
<circle cx="721.8" cy="158.1" r="0.5" fill="#54c07f"/>
<polygon points="729.1,153.0 737.9,155.2 737.8,156.5 729.0,154.3" fill="#c4cf3a"/>
<polygon points="740.6,151.4 787.6,163.0 786.5,179.4 739.6,167.5" fill="#3a3a3a"/>
<polygon points="741.9,153.5 750.8,155.7 750.7,156.9 741.9,154.7" fill="#a8a8a8" opacity="0.55"/>
<polygon points="742.7,158.0 748.5,159.5 748.5,160.5 742.6,159.1" fill="#a8a8a8" opacity="0.5"/>
<circle cx="769.2" cy="163.4" r="0.5" fill="#54c07f"/>
<polygon points="742.4,161.5 748.3,163.0 748.2,164.0 742.4,162.5" fill="#a8a8a8" opacity="0.5"/>
<circle cx="768.9" cy="166.9" r="0.5" fill="#54c07f"/>
<polygon points="742.2,165.0 748.1,166.5 748.0,167.5 742.2,166.0" fill="#a8a8a8" opacity="0.5"/>
<circle cx="768.7" cy="170.4" r="0.5" fill="#54c07f"/>
<polygon points="776.8,168.0 786.1,170.3 786.0,171.7 776.7,169.3" fill="#c4cf3a"/>
<polygon points="766.3,161.8 769.2,162.5 769.2,163.6 766.2,162.8" fill="#d8d8d8" opacity="0.7"/>
<path d="M389 229.6 H432 M389 232.6 H431.5 M392.5 239.4 H433 M389 229.6 V232.6" fill="none" stroke="#262626" stroke-width="1.0" stroke-linejoin="round" stroke-linecap="round"/>
<path d="M584 229.6 H626.6 Q627.6 231 626.6 232.6 H584 M624 232.6 V239.4 H582" fill="#fff" stroke="#262626" stroke-width="1.0" stroke-linejoin="round" stroke-linecap="round"/>
<rect x="472.3" y="208.6" width="19.2" height="31" fill="#fff"/>
<line x1="473" y1="210.6" x2="491" y2="210.6" stroke="#3a3a3a" stroke-width="1.1"/>
<line x1="473" y1="212.6" x2="491" y2="212.6" stroke="#3a3a3a" stroke-width="1.1"/>
<line x1="473" y1="214.6" x2="491" y2="214.6" stroke="#3a3a3a" stroke-width="1.1"/>
<line x1="473" y1="216.6" x2="491" y2="216.6" stroke="#3a3a3a" stroke-width="1.1"/>
<line x1="473" y1="218.8" x2="491" y2="218.8" stroke="#3a3a3a" stroke-width="1.1"/>
<path d="M473 222 H489 M482 226.8 l2.5 -4 h5 M473 229.6 H491 M473 232.6 H491 M473 239.4 H491 M474.5 232.6 l2 6.8 M490 232.6 l-2 6.8" fill="none" stroke="#262626" stroke-width="1.0" stroke-linejoin="round" stroke-linecap="round"/>
<path d="M483.5 224 h7 M483 225.4 h7.5" stroke="#2e2e2e" stroke-width="0.9"/>
<path d="M531 229.6 H543 M531 232.6 H543 M531 239.4 H543 M532.5 232.6 l2 6.8 M541.5 232.6 l-2 6.8" fill="none" stroke="#262626" stroke-width="1.0" stroke-linejoin="round" stroke-linecap="round"/>
<rect x="469.4" y="199.8" width="36.8" height="9" fill="#fff" stroke="#262626" stroke-width="1.0" stroke-linejoin="round" stroke-linecap="round"/>
<line x1="471" y1="202.0" x2="497.5" y2="202.0" stroke="#555" stroke-width="1.2"/>
<line x1="471" y1="204.2" x2="497.5" y2="204.2" stroke="#555" stroke-width="1.2"/>
<line x1="471" y1="206.4" x2="497.5" y2="206.4" stroke="#555" stroke-width="1.2"/>
<path d="M441.2 209 q1.5 -3 7.2 -4.2 v-14.2 q0 -1.5 1.4 -1.6 h10.2 q1.2 0.1 1.3 1.4 l0.2 5 l1 2.2 l-0.9 0.7 l0.1 3.2 q-0.4 1.6 -2.6 1.6 l-0.4 2 q3 0.6 5 1.4 q4 1 5.6 2.5z" fill="#fff" stroke="#262626" stroke-width="1.0" stroke-linejoin="round" stroke-linecap="round"/>
<path d="M460.2 192.4 v10.6" fill="none" stroke="#444" stroke-width="1.5"/>
<path d="M455.6 199.4 q-0.8 2 0.6 3.6 M449.4 204.4 h8.6" fill="none" stroke="#262626" stroke-width="1.0" stroke-linejoin="round" stroke-linecap="round"/>
<ellipse cx="456.6" cy="196.9" rx="1.5" ry="1.7" fill="#2a2a2a"/>
<path d="M504.5 209 q2 -2 5 -2.2 l0.8 -3.4 q-3.4 -2.6 -2.6 -7 q-1.4 -3 1.6 -4.2 q1.4 -2.4 4.2 -1.4 q2.6 -1.2 4 0.8 q3 0.6 2.2 3.6 q1.2 1.6 -0.4 3.4 q0.2 3 -2.6 4.8 l0.8 3.4 q3.6 0.2 5.4 2.2z" fill="#fff" stroke="#262626" stroke-width="1.0" stroke-linejoin="round" stroke-linecap="round"/>
<path d="M508.4 197.2 q2 1.6 4.8 0.4 q2.4 1.2 5.2 -0.4 M510.3 203.4 q3 2 6.4 0" fill="none" stroke="#262626" stroke-width="1.0" stroke-linejoin="round" stroke-linecap="round"/>
<g transform="translate(-1.3 0)">
<path d="M552.6 209 q2.4 -2.4 6 -2.8 l0.8 -2.2 q-3 0 -3.8 -1.6 l0.4 -3 l-1.2 -1 l1.6 -3 q-0.4 -1.4 -1.4 -1.8 q0.6 -3.4 4.4 -4.4 q4 -1 7.4 0.6 l1.6 -0.6 l-0.4 2 q0.8 5.4 0 11.6 l-0.4 2.2 q1.4 0.8 4 1.2 q3.6 0.6 5 2.8z" fill="#fff" stroke="#262626" stroke-width="1.0" stroke-linejoin="round" stroke-linecap="round"/>
<path d="M558.6 195 q2.8 0.2 2.6 3.6 l-0.6 2.6 M556.6 193.4 q2 -1 3.6 -0.2 M559.6 206 l6 -1.4" fill="none" stroke="#262626" stroke-width="1.0" stroke-linejoin="round" stroke-linecap="round"/>
<rect x="557.4" y="196.2" width="1.8" height="2.4" fill="#333"/>
</g>
<polygon points="432.5,209.3 472.7,209.3 470.2,251.8 435.0,251.8" fill="#fff"/><path d="M435.0 251.6 L432.5 209.3 H472.7 L470.2 251.6" fill="none" stroke="#262626" stroke-width="1.0" stroke-linejoin="round" stroke-linecap="round"/><path d="M435.0 251.6 l-1.2 -2.6 M470.2 251.6 l1.2 -2.6" fill="none" stroke="#262626" stroke-width="1.0" stroke-linejoin="round" stroke-linecap="round"/><path d="M433.7 222 l-2.2 10.6 l-1 6.8 h3.6 M471.5 222 l2.2 10.6 l1 6.8 h-3.6" fill="#fff" stroke="#262626" stroke-width="1.0" stroke-linejoin="round" stroke-linecap="round"/>
<polygon points="491.4,209.3 531.5,209.3 529.3,251.8 493.8,251.8" fill="#fff"/><path d="M493.8 251.6 L491.4 209.3 H531.5 L529.3 251.6" fill="none" stroke="#262626" stroke-width="1.0" stroke-linejoin="round" stroke-linecap="round"/><path d="M493.8 251.6 l-1.2 -2.6 M529.3 251.6 l1.2 -2.6" fill="none" stroke="#262626" stroke-width="1.0" stroke-linejoin="round" stroke-linecap="round"/><path d="M492.6 222 l-2.2 10.6 l-1 6.8 h3.6 M530.3 222 l2.2 10.6 l1 6.8 h-3.6" fill="#fff" stroke="#262626" stroke-width="1.0" stroke-linejoin="round" stroke-linecap="round"/>
<polygon points="541.3,209.3 582.1,209.3 580.3,251.8 544.0,251.8" fill="#fff"/><path d="M544.0 251.6 L541.3 209.3 H582.1 L580.3 251.6" fill="none" stroke="#262626" stroke-width="1.0" stroke-linejoin="round" stroke-linecap="round"/><path d="M544.0 251.6 l-1.2 -2.6 M580.3 251.6 l1.2 -2.6" fill="none" stroke="#262626" stroke-width="1.0" stroke-linejoin="round" stroke-linecap="round"/><path d="M542.5 222 l-2.2 10.6 l-1 6.8 h3.6 M580.9 222 l2.2 10.6 l1 6.8 h-3.6" fill="#fff" stroke="#262626" stroke-width="1.0" stroke-linejoin="round" stroke-linecap="round"/>
<rect x="78" y="60" width="2.9" height="9.5" fill="#111"/>
<rect x="114.3" y="60" width="2.6" height="11" fill="#111"/>
<polygon points="67.1,68.4 123.4,70.9 120.3,115.4 65.1,101.8" fill="#fbfbfb" stroke="#5c5c5c" stroke-width="1.0" stroke-linejoin="round"/>
<polygon points="68.7,70.2 70.9,70.3 70.9,71.0 68.6,70.8" fill="#333"/>
<polygon points="89.4,72.0 95.1,72.4 95.0,73.2 89.4,72.8" fill="#777" opacity="0.7"/>
<polygon points="68.9,75.3 73.4,75.6 73.3,77.0 68.9,76.6" fill="#9aa0a8" opacity="0.55"/>
<polygon points="68.7,79.0 73.2,79.5 73.1,80.9 68.6,80.3" fill="#9aa0a8" opacity="0.55"/>
<polygon points="68.5,83.1 72.9,83.6 72.9,85.0 68.4,84.4" fill="#9aa0a8" opacity="0.55"/>
<polygon points="68.2,86.8 72.7,87.5 72.6,88.8 68.2,88.1" fill="#9aa0a8" opacity="0.55"/>
<polygon points="68.0,90.5 72.5,91.3 72.4,92.7 67.9,91.9" fill="#9aa0a8" opacity="0.55"/>
<polygon points="67.8,94.2 72.2,95.1 72.2,96.5 67.7,95.6" fill="#9aa0a8" opacity="0.55"/>
<polygon points="76.2,72.5 80.1,72.8 80.0,73.5 76.1,73.2" fill="#888" opacity="0.6"/>
<polygon points="75.2,74.7 80.8,75.2 80.7,76.8 75.1,76.3" fill="#2fe23a"/>
<polygon points="76.3,78.7 79.1,79.0 79.0,80.6 76.2,80.3" fill="#2a3f63"/>
<polygon points="74.7,83.2 80.2,83.9 80.2,85.3 74.6,84.6" fill="#2a3f63"/>
<polygon points="74.5,86.3 80.0,87.1 80.0,88.2 74.4,87.4" fill="#c9ccd1"/>
<polygon points="74.3,88.9 79.9,89.8 79.8,91.3 74.2,90.3" fill="#2a3f63"/>
<polygon points="74.1,91.7 79.7,92.7 79.6,94.2 74.0,93.1" fill="#2a3f63"/>
<polygon points="73.9,94.9 79.5,96.0 79.4,97.2 73.9,96.1" fill="#2a3f63"/>
<polygon points="79.5,91.0 80.2,91.2 80.0,95.2 79.3,95.0" fill="#39d845"/>
<polygon points="76.4,97.4 77.0,97.5 76.8,101.1 76.1,100.9" fill="#39d845"/>
<polygon points="83.5,73.0 87.4,73.2 87.3,74.0 83.4,73.7" fill="#888" opacity="0.6"/>
<polygon points="82.5,75.3 88.1,75.7 88.0,77.4 82.4,76.9" fill="#2fe23a"/>
<polygon points="83.6,79.5 86.4,79.7 86.3,81.4 83.5,81.1" fill="#2a3f63"/>
<polygon points="81.9,84.1 87.5,84.8 87.4,86.3 81.8,85.5" fill="#2a3f63"/>
<polygon points="81.7,87.4 87.3,88.2 87.2,89.3 81.6,88.4" fill="#c9ccd1"/>
<polygon points="81.5,90.1 87.1,91.0 87.0,92.5 81.4,91.6" fill="#2a3f63"/>
<polygon points="81.4,93.0 86.9,94.0 86.8,95.5 81.3,94.5" fill="#2a3f63"/>
<polygon points="81.1,96.3 86.7,97.4 86.6,98.7 81.1,97.6" fill="#2a3f63"/>
<polygon points="86.7,92.3 87.5,92.4 87.2,96.5 86.5,96.4" fill="#39d845"/>
<polygon points="83.6,98.8 84.2,99.0 84.0,102.7 83.3,102.5" fill="#39d845"/>
<polygon points="90.8,73.5 94.7,73.7 94.7,74.5 90.7,74.2" fill="#888" opacity="0.6"/>
<polygon points="89.8,75.9 95.4,76.3 95.3,78.1 89.7,77.6" fill="#2fe23a"/>
<polygon points="90.9,80.2 93.7,80.5 93.6,82.2 90.8,81.9" fill="#2a3f63"/>
<polygon points="89.2,85.0 94.8,85.7 94.7,87.3 89.1,86.5" fill="#2a3f63"/>
<polygon points="89.0,88.4 94.5,89.2 94.5,90.4 88.9,89.5" fill="#c9ccd1"/>
<polygon points="88.8,91.2 94.3,92.1 94.2,93.7 88.7,92.8" fill="#2a3f63"/>
<polygon points="88.6,94.3 94.1,95.3 94.0,96.8 88.5,95.8" fill="#2a3f63"/>
<polygon points="88.4,97.7 93.9,98.8 93.8,100.1 88.3,99.0" fill="#2a3f63"/>
<polygon points="94.0,93.5 94.7,93.6 94.4,97.9 93.7,97.7" fill="#39d845"/>
<polygon points="90.8,100.3 91.4,100.4 91.2,104.3 90.5,104.2" fill="#39d845"/>
<polygon points="98.1,73.9 102.0,74.2 102.0,75.0 98.0,74.7" fill="#888" opacity="0.6"/>
<polygon points="97.1,76.4 102.7,76.9 102.6,78.7 96.9,78.2" fill="#2fe23a"/>
<polygon points="98.2,80.9 101.0,81.2 100.9,83.0 98.1,82.7" fill="#2a3f63"/>
<polygon points="96.4,85.9 102.0,86.6 101.9,88.2 96.3,87.5" fill="#2a3f63"/>
<polygon points="96.2,89.4 101.8,90.3 101.7,91.5 96.1,90.6" fill="#c9ccd1"/>
<polygon points="96.0,92.4 101.6,93.3 101.5,94.9 95.9,94.0" fill="#2a3f63"/>
<polygon points="95.8,95.6 101.4,96.5 101.3,98.2 95.7,97.1" fill="#2a3f63"/>
<polygon points="95.6,99.1 101.1,100.2 101.0,101.6 95.5,100.5" fill="#2a3f63"/>
<polygon points="101.2,94.7 101.9,94.8 101.6,99.2 100.9,99.1" fill="#39d845"/>
<polygon points="98.0,101.8 98.6,101.9 98.4,105.9 97.7,105.8" fill="#39d845"/>
<polygon points="105.4,74.4 109.3,74.7 109.3,75.5 105.3,75.2" fill="#888" opacity="0.6"/>
<polygon points="104.4,77.0 110.0,77.5 109.8,79.3 104.2,78.9" fill="#2fe23a"/>
<polygon points="105.5,81.6 108.3,81.9 108.1,83.8 105.3,83.5" fill="#2a3f63"/>
<polygon points="103.7,86.8 109.3,87.5 109.2,89.2 103.6,88.5" fill="#2a3f63"/>
<polygon points="103.5,90.5 109.0,91.3 108.9,92.6 103.4,91.7" fill="#c9ccd1"/>
<polygon points="103.2,93.6 108.8,94.4 108.7,96.1 103.1,95.2" fill="#2a3f63"/>
<polygon points="103.0,96.8 108.6,97.8 108.5,99.5 102.9,98.5" fill="#2a3f63"/>
<polygon points="102.8,100.5 108.3,101.6 108.2,103.0 102.7,101.9" fill="#2a3f63"/>
<polygon points="108.4,95.9 109.2,96.0 108.8,100.6 108.1,100.5" fill="#39d845"/>
<polygon points="105.2,103.3 105.8,103.4 105.6,107.6 104.9,107.4" fill="#39d845"/>
<polygon points="113.2,74.9 117.2,75.2 117.1,76.1 113.2,75.8" fill="#888" opacity="0.6"/>
<polygon points="112.2,77.6 117.8,78.1 117.7,80.0 112.1,79.5" fill="#2fe23a"/>
<polygon points="113.3,82.4 116.1,82.7 116.0,84.7 113.2,84.4" fill="#2a3f63"/>
<polygon points="111.5,87.8 117.1,88.5 117.0,90.3 111.4,89.5" fill="#2a3f63"/>
<polygon points="111.3,91.6 116.8,92.4 116.7,93.7 111.2,92.9" fill="#c9ccd1"/>
<polygon points="111.0,94.8 116.6,95.7 116.5,97.4 110.9,96.5" fill="#2a3f63"/>
<polygon points="110.8,98.2 116.4,99.2 116.2,100.9 110.7,99.9" fill="#2a3f63"/>
<polygon points="110.5,102.0 116.1,103.1 116.0,104.6 110.4,103.5" fill="#2a3f63"/>
<polygon points="116.2,97.2 116.9,97.3 116.6,102.1 115.9,101.9" fill="#39d845"/>
<polygon points="112.9,104.9 113.6,105.0 113.3,109.3 112.6,109.2" fill="#39d845"/>
<polygon points="84.3,82.5 85.1,82.6 85.0,84.1 84.2,84.0" fill="#2a3f63"/>
<polygon points="92.0,84.2 92.9,84.3 92.8,85.8 91.9,85.7" fill="#2a3f63"/>
<polygon points="99.3,85.9 100.1,86.0 100.0,87.6 99.2,87.5" fill="#2a3f63"/>
<polygon points="109.5,108.7 117.8,110.5 117.7,112.3 109.4,110.4" fill="#2b5f8a"/>
<polygon points="78.7,149.3 90.9,152.0 82.2,174.2 68.0,170.0" fill="#383c42" stroke="#2a2d31" stroke-width="1.2" stroke-linejoin="round"/>
<polygon points="78.9,151.7 88.8,153.9 82.0,170.7 70.9,167.5" fill="#2d3b4e"/>
<polygon points="79.3,156.5 84.5,157.7 79.8,168.6 74.3,167.0" fill="#445668" opacity="0.8"/>
<polygon points="81.8,152.8 83.6,153.2 82.9,154.9 81.0,154.5" fill="#4da3e8"/>
<polygon points="76.0,160.3 78.9,161.1 75.7,167.9 72.7,167.1" fill="#5b6b7a" opacity="0.7"/>
<polygon points="94.2,156.6 124.2,162.0 119.4,183.4 87.2,175.4" fill="#34383d" stroke="#25282c" stroke-width="1.4" stroke-linejoin="round"/>
<polygon points="95.5,159.3 121.5,164.2 117.9,179.4 90.5,172.9" fill="#35404e"/>
<polygon points="95.5,159.3 121.5,164.2 120.1,170.1 93.6,164.6" fill="#475567" opacity="0.8"/>
<polygon points="94.7,173.9 98.8,166.7 101.0,168.2 99.8,175.1" fill="#55636f"/>
<polygon points="101.1,175.4 105.3,167.0 108.3,168.1 106.8,176.8" fill="#5d6a78"/>
<polygon points="108.1,177.1 111.2,170.4 113.8,170.5 113.8,178.5" fill="#4f5c69"/>
<g transform="rotate(0 112.2 149.2)"><circle cx="112.2" cy="149.2" r="2.1" fill="#5598ee"/><path d="M111.57 144.04 A5.20 5.20 0 0 1 117.39 148.93" fill="none" stroke="#5598ee" stroke-width="2.7" stroke-linecap="round"/><path d="M111.02 139.57 A9.70 9.70 0 0 1 121.89 148.69" fill="none" stroke="#5598ee" stroke-width="2.7" stroke-linecap="round"/><path d="M110.47 135.11 A14.20 14.20 0 0 1 126.38 148.46" fill="none" stroke="#5598ee" stroke-width="2.7" stroke-linecap="round"/></g>
<path d="M462 52 Q545 63 630 52 Q545 58 462 52z" fill="#e9e9e9" opacity="0.8"/>
<path d="M306 190 L322 186 M308 215 l14 4 M326 221 l60 -7" fill="none" stroke="#d0d0d0" stroke-width="0.5" stroke-dasharray="2 3"/>
<path d="M686 190 L716 200 L694 220 M612 212 l70 9" fill="none" stroke="#d0d0d0" stroke-width="0.5" stroke-dasharray="2 3"/>
<rect x="689.0" y="548" width="1.6" height="1.1" fill="#c9ccd2" opacity="0.8"/>
<rect x="693.0" y="548" width="1.6" height="1.1" fill="#c9ccd2" opacity="0.8"/>
<rect x="697.5" y="548" width="1.6" height="1.1" fill="#c9ccd2" opacity="0.8"/>
<rect x="702.0" y="548" width="1.6" height="1.1" fill="#c9ccd2" opacity="0.8"/>
<rect x="706.0" y="548" width="1.6" height="1.1" fill="#c9ccd2" opacity="0.8"/>
<rect x="709.0" y="548" width="1.6" height="1.1" fill="#c9ccd2" opacity="0.8"/>
<rect x="783.0" y="548" width="1.6" height="1.1" fill="#c9ccd2" opacity="0.8"/>
<rect x="787.0" y="548" width="1.6" height="1.1" fill="#c9ccd2" opacity="0.8"/>
<rect x="792.0" y="548" width="1.6" height="1.1" fill="#c9ccd2" opacity="0.8"/>
<rect x="800.0" y="548" width="1.6" height="1.1" fill="#c9ccd2" opacity="0.8"/>
<rect x="806.0" y="548" width="1.6" height="1.1" fill="#c9ccd2" opacity="0.8"/>
<rect x="811.0" y="548" width="1.6" height="1.1" fill="#c9ccd2" opacity="0.8"/>
<rect x="815.0" y="548" width="1.6" height="1.1" fill="#c9ccd2" opacity="0.8"/>
<rect x="888.0" y="548" width="1.6" height="1.1" fill="#c9ccd2" opacity="0.8"/>
<rect x="896.0" y="548" width="1.6" height="1.1" fill="#c9ccd2" opacity="0.8"/>
<rect x="901.0" y="548" width="1.6" height="1.1" fill="#c9ccd2" opacity="0.8"/>
<rect x="921.0" y="548" width="1.6" height="1.1" fill="#c9ccd2" opacity="0.8"/>
<rect x="927.0" y="548" width="1.6" height="1.1" fill="#c9ccd2" opacity="0.8"/>
<rect x="932.0" y="548" width="1.6" height="1.1" fill="#c9ccd2" opacity="0.8"/>
<rect x="936.0" y="548" width="1.6" height="1.1" fill="#c9ccd2" opacity="0.8"/>
<text x="31.58" y="428.98" font-size="19.69" fill="#7e7e7e" stroke="#7e7e7e" stroke-width="0.16">工厂整合管理系统</text>
<text x="235.50" y="428.92" font-size="19.54" fill="#7e7e7e" stroke="#7e7e7e" stroke-width="0.16">制造执行系统</text>
<text x="400.83" y="428.99" font-size="19.71" fill="#7e7e7e" stroke="#7e7e7e" stroke-width="0.16">整厂设备效率监控</text>
<text x="587.52" y="428.93" font-size="19.56" fill="#7e7e7e" stroke="#7e7e7e" stroke-width="0.16">厂务环境能耗监控</text>
<text x="772.66" y="428.96" font-size="19.63" fill="#7e7e7e" stroke="#7e7e7e" stroke-width="0.16">设备预防监诊系统</text>
<text x="38.68" y="471.68" font-size="16.8" fill="#000" stroke="#000" stroke-width="0.3">管理报表</text>
<circle cx="29.2" cy="465.7" r="2.15" fill="#000"/>
<text x="38.67" y="492.18" font-size="16.8" fill="#000" stroke="#000" stroke-width="0.3">人力指标</text>
<circle cx="29.2" cy="486.2" r="2.15" fill="#000"/>
<text x="38.71" y="512.58" font-size="16.8" fill="#000" stroke="#000" stroke-width="0.3">制造成本</text>
<circle cx="29.2" cy="506.6" r="2.15" fill="#000"/>
<text x="38.81" y="532.58" font-size="16.8" fill="#000" stroke="#000" stroke-width="0.3">客制化报表</text>
<circle cx="29.2" cy="526.6" r="2.15" fill="#000"/>
<text x="222.30" y="471.68" font-size="16.8" fill="#000" stroke="#000" stroke-width="0.3" textLength="85.25" lengthAdjust="spacingAndGlyphs">制程生产力</text>
<circle cx="212.8" cy="465.7" r="2.15" fill="#000"/>
<text x="222.12" y="492.18" font-size="16.8" fill="#000" stroke="#000" stroke-width="0.3">工单在制进度</text>
<circle cx="212.8" cy="486.2" r="2.15" fill="#000"/>
<text x="221.59" y="512.58" font-size="16.8" fill="#000" stroke="#000" stroke-width="0.3">品质状况</text>
<circle cx="212.8" cy="506.6" r="2.15" fill="#000"/>
<text x="407.76" y="471.68" font-size="16.8" fill="#000" stroke="#000" stroke-width="0.3" textLength="125.7" lengthAdjust="spacingAndGlyphs">设备OEE/稼动率</text>
<circle cx="398.3" cy="465.7" r="2.15" fill="#000"/>
<text x="407.91" y="492.18" font-size="16.8" fill="#000" stroke="#000" stroke-width="0.3">产线平衡率监控</text>
<circle cx="398.3" cy="486.2" r="2.15" fill="#000"/>
<text x="407.77" y="512.58" font-size="16.8" fill="#000" stroke="#000" stroke-width="0.3">设备异常记录</text>
<circle cx="398.3" cy="506.6" r="2.15" fill="#000"/>
<text x="593.34" y="471.68" font-size="16.8" fill="#000" stroke="#000" stroke-width="0.3">无线环境因子监控</text>
<circle cx="583.8" cy="465.7" r="2.15" fill="#000"/>
<text x="593.01" y="492.18" font-size="16.8" fill="#000" stroke="#000" stroke-width="0.3" textLength="93.9" lengthAdjust="spacingAndGlyphs">(WiFi/LoRA)</text>
<text x="593.02" y="512.58" font-size="16.8" fill="#000" stroke="#000" stroke-width="0.3">能耗监控</text>
<circle cx="583.8" cy="506.6" r="2.15" fill="#000"/>
<text x="778.81" y="471.68" font-size="16.8" fill="#000" stroke="#000" stroke-width="0.3">制程肇因分析</text>
<circle cx="769.3" cy="465.7" r="2.15" fill="#000"/>
<text x="778.77" y="492.18" font-size="16.8" fill="#000" stroke="#000" stroke-width="0.3">设备预防保养</text>
<circle cx="769.3" cy="486.2" r="2.15" fill="#000"/>
<text x="777.29" y="512.58" font-size="16.8" fill="#000" stroke="#000" stroke-width="0.3" textLength="102.8" lengthAdjust="spacingAndGlyphs">良率预测分析</text>
<circle cx="769.3" cy="506.6" r="2.15" fill="#000"/>
<text x="459.70" y="284.25" font-size="24.35" font-weight="500" fill="#000">战情中心</text>
<text x="307.04" y="317.01" font-size="21.88" font-weight="500" fill="#000">绩效管理</text>
<text x="412.32" y="317.05" font-size="21.98" font-weight="500" fill="#000">工作管理</text>
<text x="519.20" y="316.96" font-size="21.74" font-weight="500" fill="#000">进度管理</text>
<text x="624.78" y="317.02" font-size="21.89" font-weight="500" fill="#000">技术管理</text>
<g filter="url(#glow)"><text x="434.63" y="142.47" font-size="13.6" font-weight="500" fill="#fff" textLength="54.1" lengthAdjust="spacingAndGlyphs">即時OEE</text><text x="436.78" y="162.37" font-size="13.6" font-weight="500" fill="#fff" textLength="50.7" lengthAdjust="spacingAndGlyphs">(稼動率)</text></g>
<text x="508.84" y="164.49" font-size="13.4" font-weight="bold" fill="#111" textLength="91.8" lengthAdjust="spacingAndGlyphs">(在线生产进度)</text>
<g transform="translate(70.8 112.2) rotate(14) skewX(-14)"><text x="-0.12" y="3.27" font-size="8.6" font-weight="900" fill="#111" textLength="37.2" lengthAdjust="spacingAndGlyphs">生产线看板</text></g>
<g transform="translate(69.6 181.4) rotate(13) skewX(-14)"><text x="-0.27" y="3.27" font-size="8.6" font-weight="900" fill="#111" textLength="35.95" lengthAdjust="spacingAndGlyphs">手持仪表板</text></g>
</svg>
<div class="lab" style="left:351.2px;top:135.0px;font-size:15.2px;color:#fff;font-weight:normal;letter-spacing:0.00px;transform:rotate(0deg) skewX(0deg) scaleX(0.93);-webkit-text-stroke:0.35px #fff;">FIMS</div>
<div class="lab" style="left:629.2px;top:108.6px;font-size:14.6px;color:#fff;font-weight:normal;letter-spacing:0.00px;transform:rotate(0deg) skewX(0deg) scaleX(0.93);-webkit-text-stroke:0.35px #fff;">EMS</div>
<div class="lab" style="left:629.2px;top:169.4px;font-size:14.6px;color:#fff;font-weight:normal;letter-spacing:0.00px;transform:rotate(0deg) skewX(0deg) scaleX(0.93);-webkit-text-stroke:0.35px #fff;">PMS</div>
<div class="lab" style="left:541.0px;top:132.0px;font-size:13.6px;color:#111;font-weight:bold;letter-spacing:0.00px;transform:rotate(0deg) skewX(0deg) scaleX(0.97);">MES</div>
<div class="lab" style="left:180.4px;top:175.2px;font-size:14.6px;color:#111;font-weight:bold;letter-spacing:0.00px;transform:rotate(-10.5deg) skewX(0deg) scaleX(0.9);-webkit-text-stroke:0.15px #111;">OEE</div>
<div class="lab" style="left:258.4px;top:180.8px;font-size:14.6px;color:#111;font-weight:bold;letter-spacing:0.00px;transform:rotate(-14deg) skewX(0deg) scaleX(0.95);-webkit-text-stroke:0.15px #111;">MES</div>
<div class="lab" style="left:731.6px;top:173.4px;font-size:14.6px;color:#111;font-weight:bold;letter-spacing:0.00px;transform:rotate(14.5deg) skewX(0deg) scaleX(0.93);-webkit-text-stroke:0.15px #111;">EMS</div>
<div class="lab" style="left:801.6px;top:168.2px;font-size:14.6px;color:#111;font-weight:bold;letter-spacing:0.00px;transform:rotate(13.5deg) skewX(0deg) scaleX(0.95);-webkit-text-stroke:0.15px #111;">PMS</div>
</body>
</html>
